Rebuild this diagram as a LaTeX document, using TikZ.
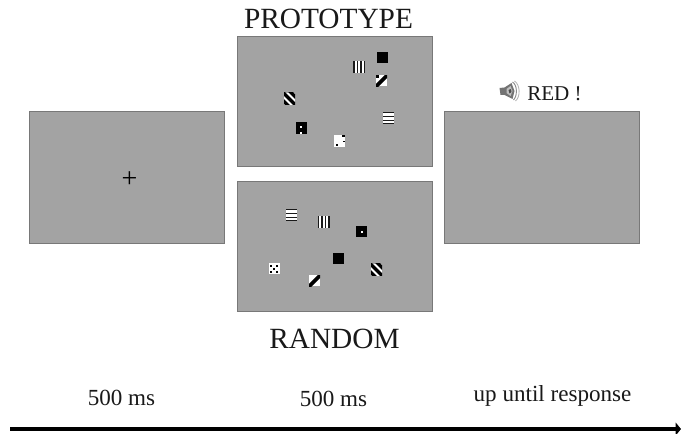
\documentclass[tikz,border=0pt]{standalone}
\usepackage{fontspec}
\setmainfont{Liberation Serif}
\usetikzlibrary{arrows.meta}
\definecolor{panelgray}{RGB}{163,163,163}
\definecolor{paneledge}{RGB}{120,120,120}
\tikzset{
  panel/.style={draw=paneledge,fill=panelgray,line width=0.8pt,minimum width=146.2pt,inner sep=0pt,anchor=center},
  caption/.style={font=\fontsize{22pt}{24pt}\selectfont,inner sep=0pt,text=black!90},
  timing/.style={font=\fontsize{17.3pt}{20pt}\selectfont,inner sep=0pt,text=black!90}
}
% stimuli, 12 px squares around the centre given
\newcommand{\stimV}[2]{\begin{scope}[shift={(#1,#2)}]
  \fill[white] (-5.5,-6) rectangle (5.5,6);
  \foreach \q in {-5.8,-2.3,1.2,4.5}{\fill[black!90] (\q,-6) rectangle (\q+1.5,6);}
\end{scope}}
\newcommand{\stimH}[2]{\begin{scope}[shift={(#1,#2)}]
  \fill[white] (-5.5,-6) rectangle (5.5,6);
  \foreach \q in {-6,-2.2,1.6,4.6}{\fill[black!90] (-5.5,\q) rectangle (5.5,\q+1.4);}
\end{scope}}
\newcommand{\stimD}[2]{\begin{scope}[shift={(#1,#2)}]
  \begin{scope}
  \clip (-5.5,-6) rectangle (5.5,6);
  \fill[white] (-5.5,-6) rectangle (5.5,6);
  \foreach \q in {-16,-8,0,8,16}{\draw[black,line width=2.4pt] (\q-8,-8) -- (\q+8,8);}
  \end{scope}
\end{scope}}
\newcommand{\stimSlash}[2]{\begin{scope}[shift={(#1,#2)}]
  \begin{scope}
  \clip (-5.5,-5.5) rectangle (5.5,5.5);
  \fill[white] (-5.5,-5.5) rectangle (5.5,5.5);
  \draw[black,line width=2.8pt] (-6,6) -- (6,-6);
  \end{scope}
\end{scope}}
\newcommand{\stimSolid}[2]{\fill[black] (#1-5.5,#2-5.5) rectangle (#1+5.5,#2+5.5);}
\newcommand{\stimBlackDots}[2]{\fill[black] (#1-5.5,#2-6) rectangle (#1+5.5,#2+6);
  \fill[white] (#1-1,#2-2) rectangle (#1+1,#2);
  \fill[white] (#1-1,#2+4.5) rectangle (#1+1,#2+6);}
\newcommand{\stimBlackDot}[2]{\fill[black] (#1-5.5,#2-5.5) rectangle (#1+5.5,#2+5.5);
  \fill[white] (#1-1,#2-1) rectangle (#1+1,#2+1);}
\newcommand{\stimWhiteDots}[2]{\fill[white] (#1-5.5,#2-6) rectangle (#1+5.5,#2+6);
  \fill[black] (#1+2.5,#2-5.5) rectangle (#1+5,#2-3.5);
  \fill[black] (#1+3,#2) rectangle (#1+5,#2+1.5);
  \fill[black] (#1-4,#2+3) rectangle (#1-2,#2+5);}
\newcommand{\stimWhiteFive}[2]{\fill[white] (#1-5.5,#2-5.5) rectangle (#1+5.5,#2+5.5);
  \foreach \a/\b in {-3/-3,3/-3,0/0,-3/3,3/3}{\fill[black] (#1+\a-0.9,#2+\b-0.9) rectangle (#1+\a+0.9,#2+\b+0.9);}}
\begin{document}
\begin{tikzpicture}[x=0.75pt,y=-0.75pt]
\useasboundingbox (0,0) rectangle (681,434);
\fill[white] (0,0) rectangle (681,434);
% panels
\node[panel,minimum height=99.2pt] (fix) at (127,177.5) {};
\node[panel,minimum height=97.6pt] (proto) at (335,101.5) {};
\node[panel,minimum height=97.6pt] (rand) at (335,246.5) {};
\node[panel,minimum height=99.2pt] (resp) at (542,177.5) {};
\node[inner sep=0pt,font=\fontsize{21pt}{22pt}\selectfont] (plus) at (129.5,179.5) {+};
% prototype display
\stimV{359}{67}
\stimSolid{382.5}{58}
\stimSlash{381.5}{81}
\fill[black] (376,75) rectangle (379,78);
\stimD{289.5}{99}
\stimBlackDots{301}{128}
\stimWhiteDots{339.5}{141}
\stimH{388.5}{118}
% random display
\stimH{291}{215}
\stimV{323.5}{222}
\stimBlackDot{361.5}{232}
\stimWhiteFive{274}{269}
\stimSlash{314.5}{281}
\stimSolid{338}{259}
\stimD{376.5}{270}
% captions
\node[caption] (ptitle) at (328.5,18.5) {PROTOTYPE};
\node[caption] (rtitle) at (334.5,338.5) {RANDOM};
\node[inner sep=0pt,font=\fontsize{15.8pt}{18pt}\selectfont,text=black!90] (red) at (554.5,93.5) {RED !};
% speaker icon
\begin{scope}[shift={(509.5,91)}]
  \fill[black!55] (-10,-3) -- (-5,-3.5) -- (2,-8) -- (5,0) -- (3,8) -- (-5,4) -- (-9,4) -- cycle;
  \fill[black!25] (-3,-2) -- (1,-5) -- (3,0) -- (1,5) -- (-3,2) -- cycle;
  \fill[black!70] (-1,-1) -- (1.5,-2) -- (2,1) -- (0,2.5) -- cycle;
  \draw[black!45,line width=0.7pt] (3,-9) .. controls (8,-6) and (8,5) .. (4,9);
  \draw[black!30,line width=0.6pt] (5,-10) .. controls (11,-6) and (11,6) .. (6,10);
\end{scope}
% timings
\node[timing] (t1) at (121.5,397.5) {500 ms};
\node[timing] (t2) at (333.5,398.5) {500 ms};
\node[timing] (t3) at (552.5,395.5) {up until response};
% time axis
\coordinate (axisL) at (10,429);
\coordinate (axisR) at (681,429);
\draw[black,line width=2.4pt,-{Triangle[length=4pt,width=9.5pt]}] (axisL) -- (axisR);
\end{tikzpicture}
\end{document}
